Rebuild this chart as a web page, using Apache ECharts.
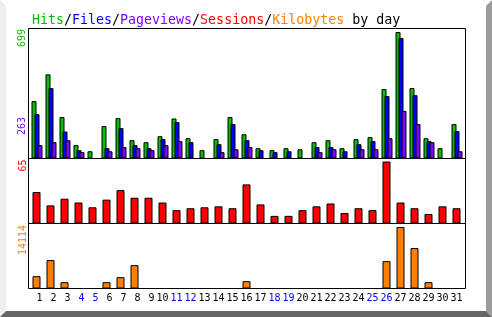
<!DOCTYPE html>
<html><head><meta charset="utf-8">
<script src="https://cdn.jsdelivr.net/npm/echarts@6/dist/echarts.min.js"></script>
<style>html,body{margin:0;padding:0;background:#fff}#c{width:492px;height:317px}</style>
</head><body><div id="c"></div>
<script>
const days = ['1','2','3','4','5','6','7','8','9','10','11','12','13','14','15','16','17','18','19','20','21','22','23','24','25','26','27','28','29','30','31'];
const weekendDays = ['4','5','11','12','18','19','25','26'];
const hits      = [317,465,229,74,40,179,223,101,90,123,221,112,46,107,229,134,57,46,57,51,90,101,57,107,118,384,699,389,112,57,190];
const files     = [245,389,149,46,0,57,168,74,57,107,201,90,0,79,190,101,46,35,40,0,63,63,40,79,96,345,666,350,96,0,151];
const pageviews = [74,90,101,35,0,40,63,57,46,74,96,0,0,35,51,63,0,0,0,0,35,51,0,51,51,112,263,190,90,0,40];
const sessions  = [33,19,26,22,17,25,35,27,27,22,14,16,17,18,16,41,20,8,8,14,18,21,11,16,14,65,22,16,10,18,16];
const kilobytes = [2830,6520,1450,0,0,1450,2600,5360,0,0,0,0,0,0,0,1680,0,0,0,0,0,0,0,0,0,6280,14114,9280,1450,0,0];

const C = {hits:'#00c000', files:'#0000ff', pages:'#8000ff', sess:'#ff0000', kb:'#ff8000'};
const MONO = '"DejaVu Sans Mono", monospace';
const maxHits = Math.max(...hits), maxPages = Math.max(...pageviews), maxSess = Math.max(...sessions), maxKb = Math.max(...kilobytes);

const chart = echarts.init(document.getElementById('c'), null, {renderer:'canvas'});
const hiddenX = (gi) => ({type:'category', gridIndex:gi, data:days, show:false, boundaryGap:true});
const hiddenY = (gi, max) => ({type:'value', gridIndex:gi, min:0, max:max, show:false, splitLine:{show:false}});
const barStyle = (c) => ({color:c, borderColor:'#000', borderWidth:1});
const rs = (c) => ({color:c, fontFamily:MONO, fontSize:13.3});

function vlabel(text, x, y, color){
  return {type:'text', x:x, y:y, rotation:Math.PI/2, z:10,
    style:{text:text, fill:color, font:'10px ' + MONO, align:'right', verticalAlign:'middle'}};
}

chart.setOption({
  animation:false,
  backgroundColor:'#ffffff',
  title:{left:27, top:9, text:'{g|Hits}{k|/}{b|Files}{k|/}{p|Pageviews}{k|/}{r|Sessions}{k|/}{o|Kilobytes}{k| by day}',
    textStyle:{fontFamily:MONO, fontSize:13.3, fontWeight:'normal',
      rich:{g:rs(C.hits), b:rs(C.files), p:rs(C.pages), r:rs(C.sess), o:rs(C.kb), k:rs('#000')}}},
  grid:[
    {left:30, width:434, top:32, height:126.5},
    {left:29.5, width:434, top:161.5, height:62},
    {left:29.5, width:434, top:227, height:61.5}
  ],
  xAxis:[hiddenX(0), hiddenX(1), {type:'category', gridIndex:2, data:days, boundaryGap:true,
    axisLine:{show:false}, axisTick:{show:false},
    axisLabel:{interval:0, margin:5,
      formatter:(v) => (weekendDays.includes(v) ? '{w|' : '{n|') + v + '}',
      rich:{n:{color:'#000', fontFamily:MONO, fontSize:10, width:12, align:'right'},
            w:{color:'#0000ff', fontFamily:MONO, fontSize:10, width:12, align:'right'}}}}],
  yAxis:[hiddenY(0, maxHits), hiddenY(1, maxSess), hiddenY(2, maxKb)],
  series:[
    {name:'Hits', type:'bar', xAxisIndex:0, yAxisIndex:0, data:hits, barWidth:5, barGap:'-40%', itemStyle:barStyle(C.hits)},
    {name:'Files', type:'bar', xAxisIndex:0, yAxisIndex:0, data:files, barWidth:5, barGap:'-40%', itemStyle:barStyle(C.files)},
    {name:'Pageviews', type:'bar', xAxisIndex:0, yAxisIndex:0, data:pageviews, barWidth:5, barGap:'-40%', itemStyle:barStyle(C.pages)},
    {name:'Sessions', type:'bar', xAxisIndex:1, yAxisIndex:1, data:sessions, barWidth:8, itemStyle:barStyle(C.sess)},
    {name:'Kilobytes', type:'bar', xAxisIndex:2, yAxisIndex:2, data:kilobytes, barWidth:8, itemStyle:barStyle(C.kb)}
  ],
  graphic:[
    {type:'polygon', shape:{points:[[0,0],[6,6],[6,311],[0,317]]}, style:{fill:'#efefef'}, silent:true},
    {type:'polygon', shape:{points:[[492,0],[486,6],[486,311],[492,317]]}, style:{fill:'#9c9c9c'}, silent:true},
    {type:'polygon', shape:{points:[[0,317],[6,311],[486,311],[492,317]]}, style:{fill:'#666666'}, silent:true},
    {type:'rect', shape:{x:28.5, y:28.5, width:437, height:260}, style:{fill:null, stroke:'#000', lineWidth:1}, z:5, silent:true},
    {type:'line', shape:{x1:28, y1:158.5, x2:466, y2:158.5}, style:{stroke:'#000', lineWidth:1}, z:5, silent:true},
    {type:'line', shape:{x1:28, y1:223.5, x2:466, y2:223.5}, style:{stroke:'#000', lineWidth:1}, z:5, silent:true},
    vlabel(String(maxHits), 22.5, 29, C.hits),
    vlabel(String(maxPages), 22.5, 117, C.pages),
    vlabel(String(maxSess), 23, 159.5, C.sess),
    vlabel(String(maxKb), 23, 225, C.kb)
  ]
});
</script></body></html>
